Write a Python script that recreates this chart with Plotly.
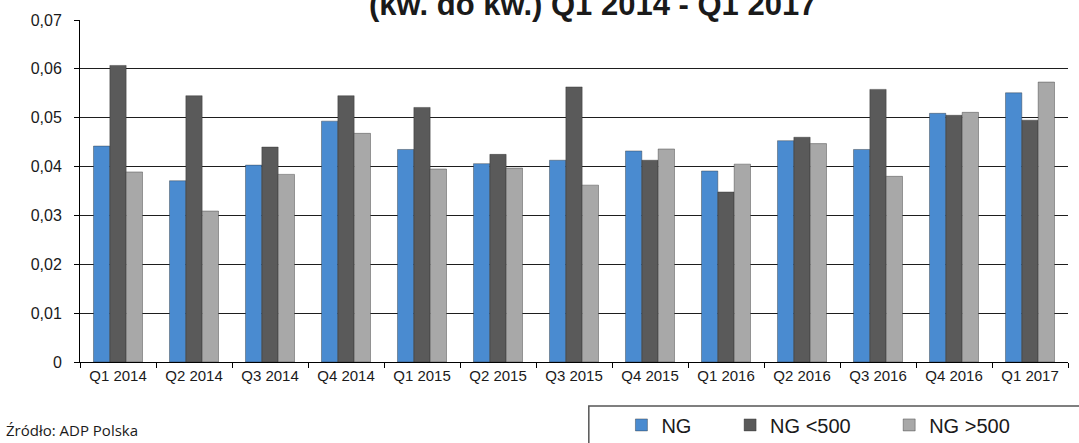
import plotly.graph_objects as go

quarters = ["Q1 2014", "Q2 2014", "Q3 2014", "Q4 2014", "Q1 2015", "Q2 2015", "Q3 2015",
            "Q4 2015", "Q1 2016", "Q2 2016", "Q3 2016", "Q4 2016", "Q1 2017"]
ng = [0.0442, 0.0371, 0.0403, 0.0493, 0.0435, 0.0406, 0.0413,
      0.0432, 0.0391, 0.0453, 0.0435, 0.0509, 0.0551]
ng_small = [0.0607, 0.0545, 0.0440, 0.0545, 0.0521, 0.0425, 0.0563,
            0.0413, 0.0348, 0.0460, 0.0558, 0.0505, 0.0495]
ng_large = [0.0389, 0.0309, 0.0384, 0.0468, 0.0395, 0.0397, 0.0362,
            0.0436, 0.0405, 0.0447, 0.0380, 0.0511, 0.0573]
y_ticks = [0, 0.01, 0.02, 0.03, 0.04, 0.05, 0.06, 0.07]
y_labels = ["0", "0,01", "0,02", "0,03", "0,04", "0,05", "0,06", "0,07"]

# name, values, colour, legend id, legend x (paper)
series = [
    ("NG", ng, "#4a8bd0", "legend", 0.548),
    ("NG <500", ng_small, "#5a5a5a", "legend2", 0.658),
    ("NG >500", ng_large, "#a8a8a8", "legend3", 0.819),
]

fig = go.Figure()
legend_cfg = {}
for name, vals, color, lg, lx in series:
    fig.add_trace(
        go.Bar(
            x=quarters,
            y=vals,
            name=name,
            legend=lg,
            marker_color=color,
            marker_line=dict(color="rgba(40,40,40,0.55)", width=0.7),
        )
    )
    legend_cfg[lg] = dict(
        orientation="h",
        x=lx,
        y=-0.184,
        xanchor="left",
        yanchor="middle",
        bgcolor="rgba(0,0,0,0)",
        font=dict(family="Liberation Sans, Arial", size=20, color="#1a1a1a"),
    )

fig.update_layout(
    width=1079,
    height=443,
    margin=dict(l=80, r=11, t=20, b=81, autoexpand=False),
    paper_bgcolor="white",
    plot_bgcolor="white",
    barmode="group",
    bargap=0.355,
    bargroupgap=0,
    font=dict(family="Liberation Sans, Arial", size=15, color="#1a1a1a"),
    showlegend=True,
    xaxis=dict(
        showline=True,
        linecolor="black",
        linewidth=1,
        ticks="outside",
        tickson="boundaries",
        ticklen=5,
        tickcolor="black",
        showgrid=False,
        tickfont=dict(size=15),
    ),
    yaxis=dict(
        range=[0, 0.07],
        tickvals=y_ticks,
        ticktext=y_labels,
        showline=True,
        linecolor="black",
        linewidth=1,
        ticks="outside",
        ticklen=5,
        tickcolor="black",
        ticklabelstandoff=9,
        showgrid=True,
        gridcolor="#1e1e1e",
        gridwidth=1,
        tickfont=dict(size=16),
        zeroline=False,
    ),
    **legend_cfg,
)

fig.add_shape(
    type="rect", xref="paper", yref="paper",
    x0=0.515, x1=1.03, y0=-0.4, y1=-0.129,
    line=dict(color="#555555", width=1.5),
    fillcolor="rgba(0,0,0,0)",
)

fig.add_annotation(
    text="<b>(kw. do kw.) Q1 2014 - Q1 2017</b>",
    xref="paper", yref="paper", x=0.519, y=1.044,
    xanchor="center", yanchor="middle",
    showarrow=False,
    font=dict(family="Liberation Sans, Arial", size=31, color="#1a1a1a"),
)
fig.add_annotation(
    text="Źródło: ADP Polska",
    xref="paper", yref="paper", x=-0.077, y=-0.2,
    xanchor="left", yanchor="middle",
    showarrow=False,
    font=dict(family="Open Sans", size=15, color="#1a1a1a"),
)

fig.write_html(
    "out.html",
    config={"displayModeBar": False},
    post_script="document.body.style.margin='0';",
)
